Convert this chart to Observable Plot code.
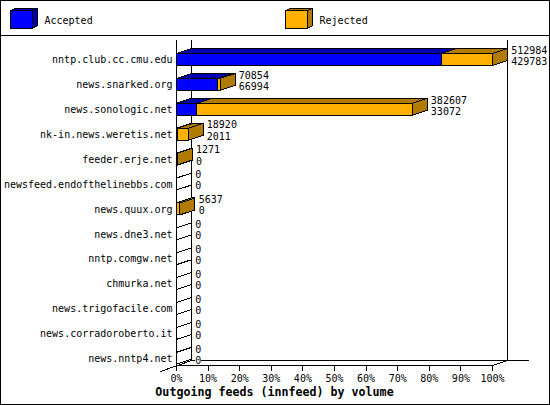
<!DOCTYPE html>
<html>
<head>
<meta charset="utf-8">
<script src="https://cdn.jsdelivr.net/npm/d3@7"></script>
<script src="https://cdn.jsdelivr.net/npm/@observablehq/plot@0.6"></script>
<style>
html,body{margin:0;padding:0;background:#fff;overflow:hidden;width:550px;height:405px}
#page{position:relative;width:550px;height:405px;font-family:"DejaVu Sans Mono",monospace;color:#000}
#frame{position:absolute;left:0;top:0;width:550px;height:405px;box-sizing:border-box;border:1px solid #000;pointer-events:none}
#legend{position:relative;height:35px;border-bottom:1px solid #000;font-size:10px}
#legend svg{position:absolute;top:7px;shape-rendering:crispEdges}
#legend span{position:absolute;top:14.5px;line-height:12px}
#chart{position:absolute;left:0;top:36px}
#caption{position:absolute;left:0;top:385px;width:549px;text-align:center;font-size:11.65px;font-weight:bold;line-height:14px;white-space:pre}
</style>
</head>
<body>
<div id="page">
  <div id="legend"></div>
  <div id="chart"></div>
  <div id="caption">Outgoing feeds (innfeed) by volume</div>
  <div id="frame"></div>
</div>
<script>
const hosts = ["nntp.club.cc.cmu.edu","news.snarked.org","news.sonologic.net","nk-in.news.weretis.net","feeder.erje.net","newsfeed.endofthelinebbs.com","news.quux.org","news.dne3.net","nntp.comgw.net","chmurka.net","news.trigofacile.com","news.corradoroberto.it","news.nntp4.net"];
const totals = [512984,70854,382607,18920,1271,0,5637,0,0,0,0,0,0];
const accepted = [429783,66994,33072,2011,0,0,0,0,0,0,0,0,0];
const percentTicks = [0,10,20,30,40,50,60,70,80,90,100];
const seriesNames = ["Accepted","Rejected"];
const frontColors = {Accepted:"#0000ff",Rejected:"#ffb000"};
const darkColors = {Accepted:"#0000b0",Rejected:"#b07b00"};

const depthX = 4.754, depthY = 0.2, half = 0.24;
const maxTotal = d3.max(totals);
const pct = v => v / maxTotal * 100;

const polys = [];
function poly(pts, fill){
  const id = polys.length ? polys[polys.length-1].id + 1 : 0;
  [...pts, pts[0]].forEach(([x,y]) => polys.push({id, x, y, fill}));
}
hosts.forEach((h,i) => {
  const a = pct(accepted[i]), t = pct(totals[i]);
  const top = i - half, bot = i + half;
  if (t === 0) {
    poly([[0,top],[depthX,top-depthY],[depthX,bot-depthY],[0,bot]], "none");
    return;
  }
  if (a > 0) {
    poly([[0,top],[depthX,top-depthY],[a+depthX,top-depthY],[a,top]], darkColors.Accepted);
    poly([[0,top],[a,top],[a,bot],[0,bot]], frontColors.Accepted);
  }
  if (t > a) {
    poly([[a,top],[a+depthX,top-depthY],[t+depthX,top-depthY],[t,top]], darkColors.Rejected);
    poly([[a,top],[t,top],[t,bot],[a,bot]], frontColors.Rejected);
  }
  poly([[t,top],[t+depthX,top-depthY],[t+depthX,bot-depthY],[t,bot]], a >= t ? darkColors.Accepted : darkColors.Rejected);
});

const topRow = -0.765, floorBack = 12.09, floorFront = 12.29, tickEnd = 12.53, tickLabel = 12.81;
const segs = [
  {x1:0,x2:0,y1:topRow,y2:tickEnd},
  {x1:depthX,x2:depthX,y1:topRow,y2:floorBack},
  {x1:100+depthX,x2:100+depthX,y1:topRow,y2:floorBack},
  {x1:0,x2:100,y1:floorFront,y2:floorFront},
  {x1:depthX,x2:depthX+1,y1:floorBack,y2:floorBack},
  {x1:7.6,x2:111.5,y1:floorBack,y2:floorBack},
  {x1:100,x2:100+depthX,y1:floorFront,y2:floorBack},
  {x1:-5.07,x2:depthX,y1:12.53,y2:floorBack}
];
const labelX = i => pct(totals[i]) + depthX + 1.15;

const chart = Plot.plot({
  width:550, height:349, margin:0,
  style:{fontFamily:"'DejaVu Sans Mono',monospace",fontSize:"10px",background:"transparent",shapeRendering:"crispEdges"},
  x:{type:"linear",domain:[0,100],range:[176,492],axis:null},
  y:{type:"linear",domain:[0,12],range:[23.0,321.8],axis:null},
  color:{type:"identity"},
  marks:[
    Plot.link(segs,{x1:"x1",x2:"x2",y1:"y1",y2:"y2",stroke:"#000",strokeWidth:1}),
    Plot.ruleX(percentTicks,{x:d=>d,y1:floorFront,y2:tickEnd,stroke:"#000"}),
    Plot.line(polys,{x:"x",y:"y",z:"id",fill:"fill",stroke:"#000",strokeWidth:1}),
    Plot.text(percentTicks,{x:d=>d,y:tickLabel,text:d=>d+"%",fill:"#000",fontSize:10}),
    Plot.text(hosts,{x:0,y:(d,i)=>i+0.02,dx:-4,text:d=>d,textAnchor:"end",fill:"#000",fontSize:10}),
    Plot.text(totals,{x:(d,i)=>labelX(i),y:(d,i)=>i-0.36,text:d=>String(d),textAnchor:"start",fill:"#000",fontSize:10}),
    Plot.text(accepted,{x:(d,i)=>labelX(i),y:(d,i)=>i+0.09,text:d=>String(d),textAnchor:"start",fill:"#000",fontSize:10})
  ]
});
document.getElementById("chart").appendChild(chart);

const legend = document.getElementById("legend");
seriesNames.forEach((name,i) => {
  const left = i === 0 ? 10 : 285, textLeft = left + 34.5;
  legend.insertAdjacentHTML("beforeend",
    `<svg width="30" height="24" style="left:${left}px">
      <polygon points="0.5,3.5 5.5,1.5 27.5,1.5 22.5,3.5" fill="${darkColors[name]}" stroke="#000"/>
      <polygon points="22.5,3.5 27.5,1.5 27.5,18.5 22.5,21.5" fill="${darkColors[name]}" stroke="#000"/>
      <rect x="0.5" y="3.5" width="22" height="18" fill="${frontColors[name]}" stroke="#000"/>
    </svg><span style="left:${textLeft}px">${name}</span>`);
});
</script>
</body>
</html>
